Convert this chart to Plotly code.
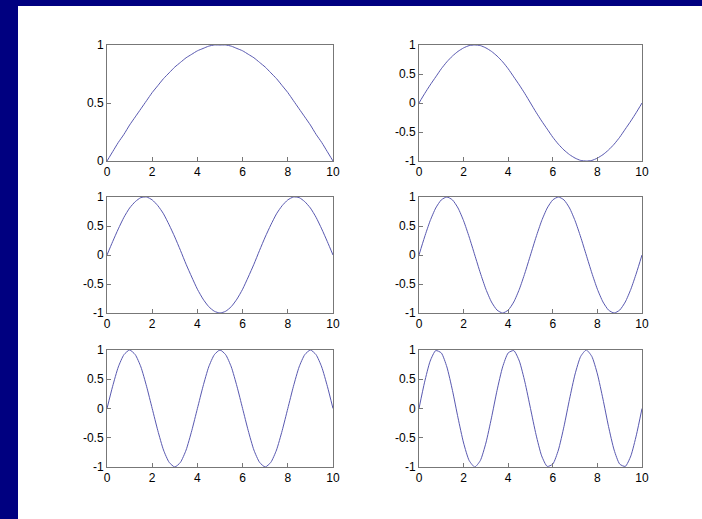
import plotly.graph_objects as go

# Sample positions along x (shared by all six panels)
x_vals = [i * 0.25 for i in range(41)]

# Curve values, one list per panel
y_panel1 = [0, .08, .16, .23, .31, .38, .45, .52, .59, .65, .71, .76, .81, .85, .89, .92, .95, .97, .99, 1.0,
            1.0, 1.0, .99, .97, .95, .92, .89, .85, .81, .76, .71, .65, .59, .52, .45, .38, .31, .23, .16, .08, 0]
y_panel2 = [0, .16, .31, .45, .59, .71, .81, .89, .95, .99, 1.0, .99, .95, .89, .81, .71, .59, .45, .31, .16,
            0, -.16, -.31, -.45, -.59, -.71, -.81, -.89, -.95, -.99, -1.0, -.99, -.95, -.89, -.81, -.71, -.59,
            -.45, -.31, -.16, 0]
y_panel3 = [0, .23, .45, .65, .81, .92, .99, 1.0, .95, .85, .71, .52, .31, .08, -.16, -.38, -.59, -.76, -.89,
            -.97, -1.0, -.97, -.89, -.76, -.59, -.38, -.16, .08, .31, .52, .71, .85, .95, 1.0, .99, .92, .81,
            .65, .45, .23, 0]
y_panel4 = [0, .31, .59, .81, .95, 1.0, .95, .81, .59, .31, 0, -.31, -.59, -.81, -.95, -1.0, -.95, -.81, -.59,
            -.31, 0, .31, .59, .81, .95, 1.0, .95, .81, .59, .31, 0, -.31, -.59, -.81, -.95, -1.0, -.95, -.81,
            -.59, -.31, 0]
y_panel5 = [0, .38, .71, .92, 1.0, .92, .71, .38, 0, -.38, -.71, -.92, -1.0, -.92, -.71, -.38, 0,
            .38, .71, .92, 1.0, .92, .71, .38, 0, -.38, -.71, -.92, -1.0, -.92, -.71, -.38, 0,
            .38, .71, .92, 1.0, .92, .71, .38, 0]
y_panel6 = [0, .45, .81, .99, .95, .71, .31, -.16, -.59, -.89, -1.0, -.89, -.59, -.16, .31, .71, .95, .99, .81,
            .45, 0, -.45, -.81, -.99, -.95, -.71, -.31, .16, .59, .89, 1.0, .89, .59, .16, -.31, -.71, -.95,
            -.99, -.81, -.45, 0]

panels = [y_panel1, y_panel2, y_panel3, y_panel4, y_panel5, y_panel6]

x_ticks = [0, 2, 4, 6, 8, 10]
x_tick_text = ["0", "2", "4", "6", "8", "10"]
y_ticks_first = [0, 0.5, 1]
y_tick_text_first = ["0", "0.5", "1"]
y_ticks = [-1, -0.5, 0, 0.5, 1]
y_tick_text = ["-1", "-0.5", "0", "0.5", "1"]

W, H = 702, 519
col_px = [(107, 333), (419, 642)]
row_px = [(45, 161), (197, 313), (350, 467)]

fig = go.Figure()

axis_style = dict(
    showline=True, mirror=True, linecolor="#777777", linewidth=1,
    ticks="inside", ticklen=4, tickcolor="#777777",
    showgrid=False, zeroline=False, automargin=False,
    tickfont=dict(family="Liberation Sans, Arial", size=12, color="#000000"),
)

for idx, y_vals in enumerate(panels):
    r, c = divmod(idx, 2)
    n = idx + 1
    xa = "x" if n == 1 else f"x{n}"
    ya = "y" if n == 1 else f"y{n}"
    fig.add_trace(go.Scatter(
        x=x_vals, y=y_vals, mode="lines",
        line=dict(color="#5858b0", width=1, shape="spline", smoothing=0.6),
        xaxis=xa, yaxis=ya, showlegend=False, hoverinfo="skip",
    ))
    x0, x1 = col_px[c]
    y0, y1 = row_px[r]
    xkey = "xaxis" if n == 1 else f"xaxis{n}"
    ykey = "yaxis" if n == 1 else f"yaxis{n}"
    fig.layout[xkey] = dict(
        domain=[x0 / W, x1 / W], anchor=ya, range=[0, 10],
        tickvals=x_ticks, ticktext=x_tick_text, **axis_style,
    )
    if n == 1:
        yr, yt, ytt = [0, 1], y_ticks_first, y_tick_text_first
    else:
        yr, yt, ytt = [-1, 1], y_ticks, y_tick_text
    fig.layout[ykey] = dict(
        domain=[1 - y1 / H, 1 - y0 / H], anchor=xa, range=yr,
        tickvals=yt, ticktext=ytt, **axis_style,
    )

# White figure area on a navy background
fig.add_shape(type="rect", xref="paper", yref="paper",
              x0=18 / W, x1=1.0, y0=0, y1=1 - 6 / H,
              fillcolor="#ffffff", line=dict(width=0), layer="below")

fig.update_layout(
    template="none",
    width=W, height=H,
    margin=dict(l=0, r=0, t=0, b=0, pad=0, autoexpand=False),
    paper_bgcolor="#000080",
    plot_bgcolor="#ffffff",
)

fig.write_html("out.html")
